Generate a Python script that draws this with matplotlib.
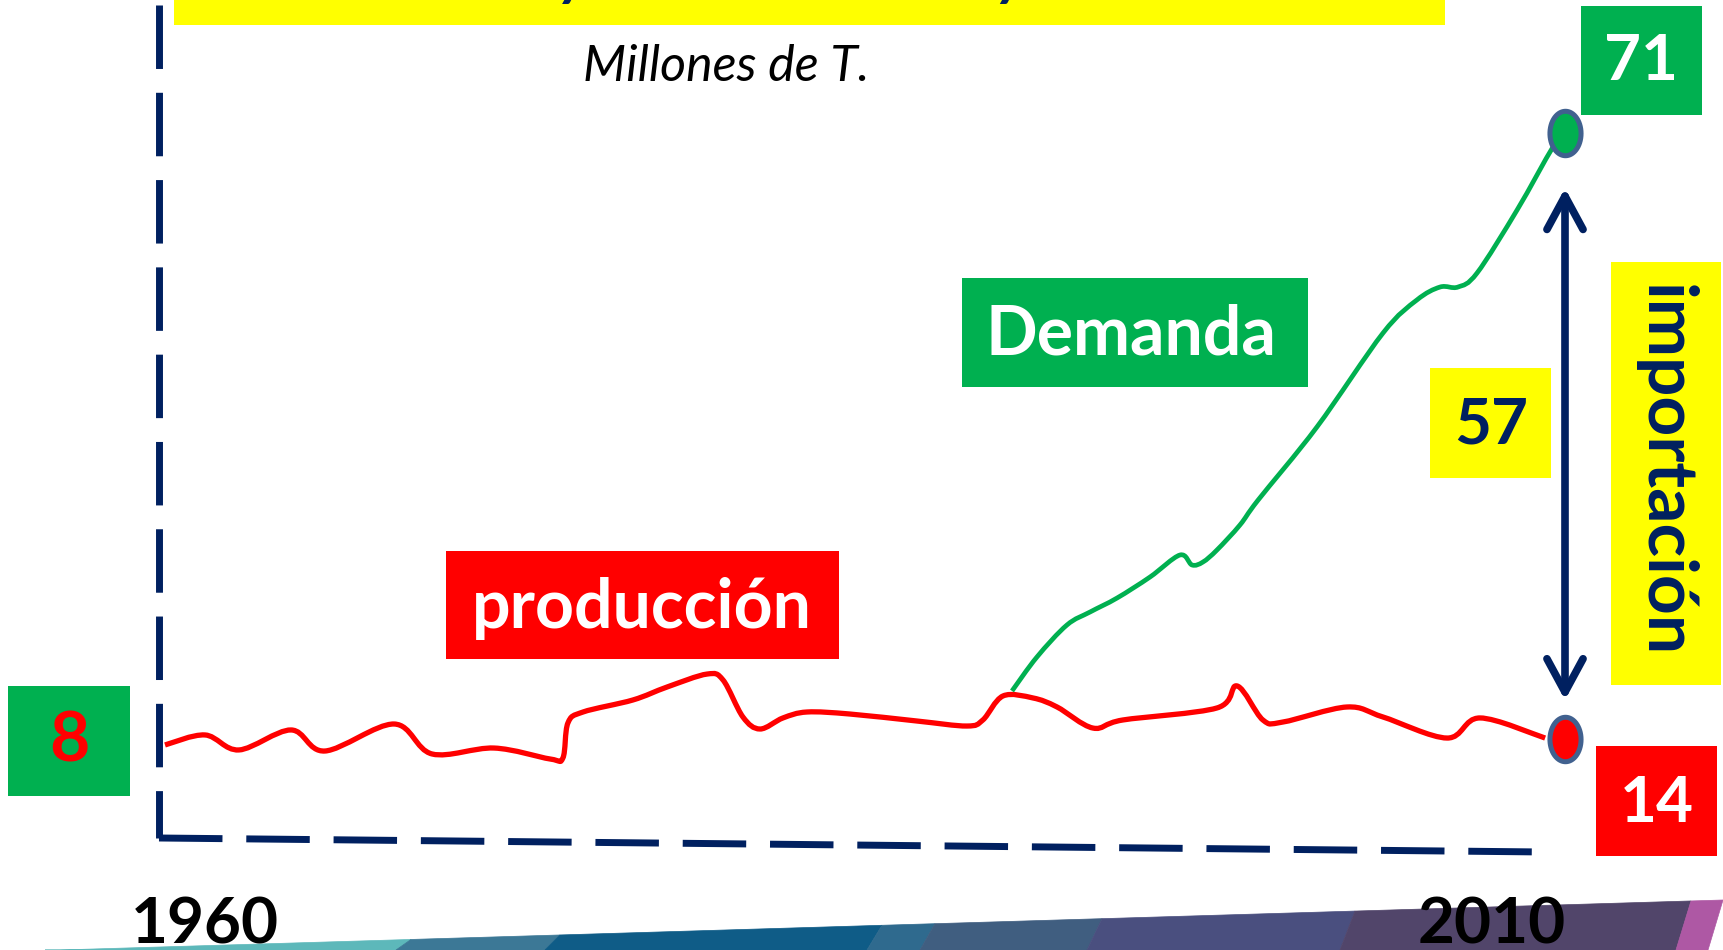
import numpy as np
import matplotlib
matplotlib.use("Agg")
import matplotlib.pyplot as plt
from matplotlib.path import Path
from matplotlib.patches import PathPatch, Rectangle, Polygon, FancyArrowPatch, ArrowStyle

plt.rcParams['font.family'] = ['Lato', 'DejaVu Sans']

# Data (millones de toneladas)
prod_years = [1960.0, 1961.43, 1962.64, 1964.5, 1965.71, 1968.18, 1969.54, 1971.75,
              1973.75, 1974.21, 1974.39, 1974.93, 1976.71, 1977.93, 1979.36, 1979.93,
              1980.64, 1981.25, 1982.07, 1982.93, 1984.46, 1986.86, 1988.64, 1989.21,
              1989.93, 1991.0, 1991.86, 1993.14, 1994.21, 1997.57, 1998.29, 1999.21,
              1999.93, 2002.21, 2003.5, 2005.79, 2006.96, 2009.29]
prod_vals = [13.44, 14.38, 12.97, 14.85, 12.87, 15.41, 12.59, 13.15,
             12.12, 12.21, 15.51, 16.54, 17.67, 18.89, 20.11, 19.55,
             16.07, 14.94, 15.98, 16.54, 16.35, 15.69, 15.22, 15.79,
             18.05, 17.86, 17.01, 15.03, 15.79, 16.92, 18.99, 15.79,
             15.6, 17.01, 16.07, 14.09, 15.98, 14.09]

dem_years = [1990.25, 1991.14, 1992.21, 1993.04, 1994.0, 1995.18, 1996.25, 1996.68,
             1997.07, 1997.57, 1998.39, 1999.04, 2001.14, 2003.5, 2004.71, 2005.54,
             2006.18, 2006.86, 2008.29, 2009.57, 2010.0]
dem_vals = [18.52, 21.71, 24.72, 25.95, 27.26, 29.24, 31.31, 30.37,
            30.65, 31.78, 34.13, 36.48, 43.35, 52.19, 55.3, 56.52,
            56.52, 57.84, 63.77, 69.69, 71.0]

end_year = 2010
end_prod = 14
end_dem = 71
start_prod_label = 8
year_labels = ['1960', '2010']

NAVY = '#002060'
GREEN = '#00B050'
RED = '#FF0000'
YELLOW = '#FFFF00'
EDGE = '#41618F'

W, H = 1723, 950
fig = plt.figure(figsize=(W / 100, H / 100), dpi=100)

# layout axes in pixel units (y down)
lay = fig.add_axes([0, 0, 1, 1])
lay.set_xlim(0, W)
lay.set_ylim(H, 0)
lay.axis('off')

# data axes, same area
ax = fig.add_axes([0, 0, 1, 1])
ax.patch.set_visible(False)
ax.axis('off')
px_year, px_unit = 28.0, 10.63
ax.set_xlim(1960 - 165 / px_year, 1960 + (W - 165) / px_year)
ax.set_ylim(14 - (H - 739) / px_unit, 14 + 739 / px_unit)


def box(x0, y0, x1, y1, color):
    lay.add_patch(Rectangle((x0, y0), x1 - x0, y1 - y0, facecolor=color, edgecolor='none', zorder=2))


def smooth(xs, ys):
    pts = np.column_stack([xs, ys])
    n = len(pts)
    verts = [pts[0]]
    codes = [Path.MOVETO]
    for i in range(n - 1):
        p0 = pts[max(i - 1, 0)]
        p1 = pts[i]
        p2 = pts[i + 1]
        p3 = pts[min(i + 2, n - 1)]
        verts += [p1 + (p2 - p0) / 6, p2 - (p3 - p1) / 6, p2]
        codes += [Path.CURVE4] * 3
    return Path(verts, codes)


# bottom decorative band
def ytop(x):
    return 950 - (x - 60) * 50 / 1663

band = [(60, 411, '#5DB8BA'), (411, 560, '#3C7896'), (560, 882, '#0F5C87'),
        (882, 935, '#2F6A8E'), (935, 1102, '#405E80'), (1102, 1355, '#4A4F7F'),
        (1355, 1691, '#51456A'), (1691, 1723, '#AE58A4')]
for x0, x1, c in band:
    lay.add_patch(Polygon([(x0, ytop(x0)), (x1, ytop(x1)), (x1 - 15, 950), (x0 - 15, 950)],
                          closed=True, facecolor=c, edgecolor=c, lw=0.5, zorder=1))

# title bar (cut off at the top)
box(174, 0, 1445, 25, YELLOW)
lay.text(262, -6, 'Producción y Demanda de Soya', fontsize=43, fontweight='bold',
         fontstyle='italic', color=NAVY, ha='left', va='baseline', zorder=3)
lay.text(726, 81, 'Millones de T.', fontsize=36, fontstyle='italic', color='black',
         ha='center', va='baseline', zorder=3)

# dashed frame
lay.plot([159, 159], [5, 838], color=NAVY, lw=5, ls=(0, (9.14, 3.43)),
         dash_capstyle='butt', zorder=2)
lay.plot([159, 1544], [838, 852], color=NAVY, lw=5, ls=(0, (9.14, 3.43)),
         dash_capstyle='butt', zorder=2)

# series
ax.add_patch(PathPatch(smooth(prod_years, prod_vals), fill=False, edgecolor=RED, lw=3.8,
                       capstyle='butt', joinstyle='round', zorder=4))
ax.add_patch(PathPatch(smooth(dem_years, dem_vals), fill=False, edgecolor=GREEN, lw=3.4,
                       capstyle='butt', joinstyle='round', zorder=4))

t = np.linspace(0, 2 * np.pi, 60)
oval = Path(np.column_stack([0.7 * np.cos(t), np.sin(t)]), closed=True)
ax.plot([end_year], [end_dem], marker=oval, ms=32, mfc=GREEN, mec=EDGE, mew=3.6, zorder=6)
ax.plot([end_year], [end_prod], marker=oval, ms=32, mfc=RED, mec=EDGE, mew=3.6, zorder=6)

arrow = FancyArrowPatch((end_year, end_dem), (end_year, end_prod),
                        arrowstyle=ArrowStyle('<->', head_length=1.2, head_width=0.65),
                        mutation_scale=20, shrinkA=39.6, shrinkB=28, color=NAVY, lw=5.5,
                        capstyle='round', joinstyle='round', zorder=5)
ax.add_patch(arrow)

# labels
big = dict(fontsize=46, fontweight='bold', ha='center', va='center', zorder=3)
box(1581, 6, 1702, 115, GREEN)
lay.text(1641, 62, str(end_dem), color='white', **big)
box(1430, 368, 1551, 478, YELLOW)
lay.text(1491, 425, str(end_dem - end_prod), color=NAVY, **big)
box(1596, 746, 1717, 856, RED)
lay.text(1657, 804, str(end_prod), color='white', **big)
box(8, 686, 130, 796, GREEN)
lay.text(69, 742, str(start_prod_label), color=RED,
         **{**big, 'fontsize': 50})

box(1611, 262, 1721, 685, YELLOW)
lay.text(1664, 471, 'importación', color=NAVY, fontsize=50, fontweight='bold',
         rotation=-90, ha='center', va='center', zorder=3)

box(962, 278, 1308, 387, GREEN)
lay.text(1131, 335, 'Demanda', color='white', fontsize=49, fontweight='bold',
         ha='center', va='center', zorder=3)
box(446, 551, 839, 659, RED)
lay.text(642, 608, 'producción', color='white', fontsize=49, fontweight='bold',
         ha='center', va='center', zorder=3)

for xc, lab in zip([205, 1492], year_labels):
    lay.text(xc, 897, lab, color='black', fontsize=46, fontweight='bold',
             ha='center', va='top', zorder=4)

fig.savefig('out.png', dpi=100)
